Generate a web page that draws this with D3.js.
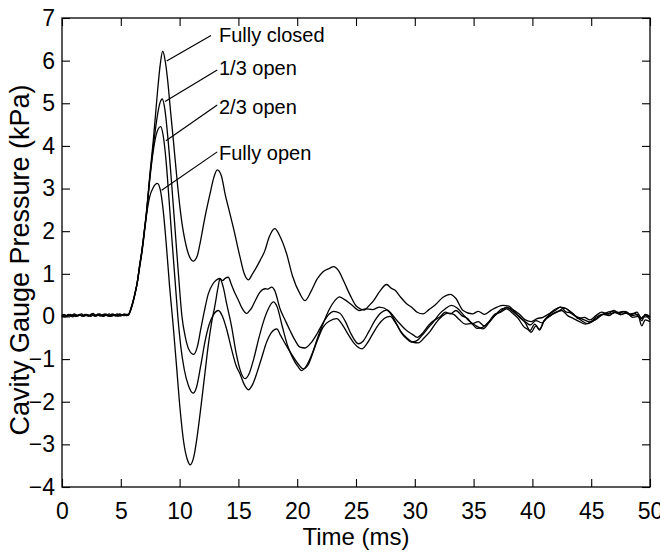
<!doctype html>
<html>
<head>
<meta charset="utf-8">
<title>Cavity gauge pressure</title>
<script src="https://cdnjs.cloudflare.com/ajax/libs/d3/7.8.5/d3.min.js"></script>
<style>
  body { margin: 0; background: #fff; }
  svg { display: block; font-family: "Liberation Sans", Arial, Helvetica, sans-serif; }
</style>
</head>
<body>
<svg id="chart" width="660" height="552"></svg>
<script>
// readings taken off the plot: [time ms, pressure kPa]
var fullyClosed = [
  [0,0.02],[0.25,-0.01],[0.5,0.03],[0.75,0.0],[1,0.04],[1.25,0.01],[1.5,0.05],[1.75,0.02],[2,0.03],[2.25,0.0],
  [2.5,0.06],[2.75,0.02],[3,0.04],[3.25,0.01],[3.5,0.05],[3.75,0.02],[4,0.06],[4.25,0.01],[4.5,0.04],[4.75,0.0],
  [5,0.05],[5.25,0.02],[5.45,0.04],[5.65,0.05],[5.9,0.22],[6.2,0.53],[6.4,0.8],[6.6,1.2],[6.8,1.55],[7.0,2.0],
  [7.2,2.5],[7.48,3.35],[7.77,4.15],[8.13,5.3],[8.35,5.9],[8.56,6.22],[8.8,5.95],[9.0,5.5],[9.2,4.9],[9.47,4.13],
  [9.75,3.3],[10.03,2.56],[10.25,2.1],[10.46,1.78],[10.8,1.43],[11.15,1.3],[11.5,1.42],[11.73,1.7],[12.1,2.25],
  [12.59,2.88],[12.9,3.25],[13.2,3.44],[13.55,3.3],[13.87,2.87],[14.2,2.5],[14.6,2.05],[15.14,1.39],[15.5,1.0],
  [15.85,0.86],[16.2,1.0],[16.84,1.31],[17.26,1.55],[17.6,1.85],[18.1,2.06],[18.5,1.9],[19.1,1.47],[19.6,0.95],
  [20.24,0.53],[20.66,0.37],[21.2,0.6],[21.7,0.88],[22.2,1.05],[22.7,1.12],[23.1,1.17],[23.5,1.08],[24.0,0.8],
  [24.5,0.5],[25.0,0.25],[25.35,0.18],[25.7,0.15],[26.1,0.25],[26.5,0.37],[27.0,0.58],[27.6,0.75],[28.0,0.66],
  [28.3,0.62],[28.8,0.45],[29.3,0.3],[29.8,0.2],[30.2,0.1],[30.7,0.06],[31.2,0.16],[31.7,0.26],[32.4,0.45],
  [33.0,0.52],[33.5,0.42],[34.1,0.14],[34.9,0.06],[35.4,0.12],[35.9,0.05],[36.5,0.15],[37.0,0.22],[37.5,0.26],
  [38.0,0.24],[38.5,0.1],[38.9,-0.02],[39.4,-0.15],[39.8,-0.33],[40.2,-0.18],[40.6,-0.3],[41.0,-0.1],[41.5,0.06],
  [42.0,0.15],[42.35,0.22],[42.9,0.18],[43.4,0.05],[43.9,-0.02],[44.4,-0.08],[44.9,-0.13],[45.4,-0.02],[45.9,0.05],
  [46.6,0.06],[47.2,0.1],[47.6,0.05],[48.0,0.08],[48.5,0.02],[49.0,0.05],[49.3,-0.05],[49.6,0.04],[50,-0.02]
];
var thirdOpen = [
  [0,0.0],[0.2,0.04],[0.45,0.01],[0.7,0.05],[0.95,0.02],[1.2,0.0],[1.45,0.04],[1.7,0.01],[1.95,0.05],[2.2,0.03],
  [2.45,0.0],[2.7,0.04],[2.95,0.02],[3.2,0.06],[3.45,0.01],[3.7,0.04],[3.95,0.0],[4.2,0.05],[4.45,0.03],[4.7,0.06],
  [4.95,0.01],[5.2,0.05],[5.45,0.02],[5.65,0.04],[5.9,0.2],[6.2,0.52],[6.4,0.8],[6.6,1.18],[6.8,1.55],[7.0,2.0],
  [7.2,2.48],[7.48,3.3],[7.77,4.0],[8.05,4.6],[8.3,4.98],[8.53,5.1],[8.75,4.85],[9.0,4.2],[9.3,3.2],[9.6,2.1],
  [9.9,1.0],[10.2,0.0],[10.5,-0.5],[10.8,-0.78],[11.2,-0.89],[11.5,-0.72],[11.8,-0.3],[12.1,0.12],[12.44,0.53],
  [12.8,0.75],[13.1,0.85],[13.43,0.89],[13.65,0.84],[13.9,0.9],[14.14,0.92],[14.4,0.75],[14.7,0.55],[15.0,0.38],
  [15.3,0.2],[15.7,0.07],[15.9,0.12],[16.13,0.2],[16.4,0.35],[16.84,0.57],[17.26,0.65],[17.5,0.64],[17.83,0.69],
  [18.1,0.6],[18.54,0.18],[19.0,-0.1],[19.39,-0.33],[19.8,-0.55],[20.24,-0.72],[20.66,-0.74],[21.23,-0.6],
  [21.7,-0.4],[22.2,-0.15],[22.7,0.05],[23.1,0.12],[23.6,0.08],[24.1,-0.12],[24.6,-0.42],[25.2,-0.64],[25.6,-0.58],
  [26.1,-0.35],[26.6,-0.1],[27.1,0.08],[27.6,0.15],[27.9,0.08],[28.4,-0.15],[28.9,-0.4],[29.3,-0.52],[29.7,-0.6],
  [30.1,-0.58],[30.6,-0.45],[31.1,-0.28],[31.6,-0.12],[32.1,0.06],[32.6,0.18],[33.1,0.26],[33.6,0.2],[34.1,0.05],
  [34.6,-0.1],[35.1,-0.2],[35.8,-0.29],[36.3,-0.15],[36.8,0.02],[37.3,0.12],[37.8,0.22],[38.3,0.12],[38.8,0.02],
  [39.3,-0.1],[39.8,-0.2],[40.3,-0.1],[40.8,-0.15],[41.2,-0.05],[41.7,0.05],[42.2,0.12],[42.7,0.2],[43.2,0.12],
  [43.7,0.0],[44.2,-0.1],[44.7,-0.17],[45.2,-0.1],[45.7,0.0],[46.2,0.08],[46.7,0.12],[47.2,0.08],[47.7,0.12],
  [48.2,0.05],[48.7,0.08],[49.2,-0.05],[49.6,0.02],[50,-0.08]
];
var twoThirdsOpen = [
  [0,0.04],[0.3,0.0],[0.55,0.05],[0.8,0.02],[1.05,0.06],[1.3,0.01],[1.55,0.03],[1.8,0.0],[2.05,0.05],[2.3,0.02],
  [2.55,0.04],[2.8,0.0],[3.05,0.06],[3.3,0.03],[3.55,0.0],[3.8,0.05],[4.05,0.02],[4.3,0.06],[4.55,0.01],[4.8,0.04],
  [5.05,0.02],[5.3,0.06],[5.5,0.02],[5.65,0.03],[5.9,0.2],[6.2,0.52],[6.4,0.78],[6.6,1.18],[6.8,1.55],[7.0,2.0],
  [7.2,2.45],[7.48,3.25],[7.77,3.9],[8.05,4.3],[8.39,4.45],[8.6,4.25],[8.85,3.65],[9.1,2.75],[9.35,1.8],[9.6,0.9],
  [9.85,0.0],[10.1,-0.7],[10.4,-1.25],[10.75,-1.62],[11.15,-1.8],[11.45,-1.65],[11.8,-1.15],[12.15,-0.6],
  [12.5,-0.2],[12.9,0.05],[13.3,0.14],[13.65,0.0],[14.0,-0.3],[14.4,-0.75],[14.8,-1.15],[15.14,-1.35],[15.5,-1.6],
  [15.85,-1.72],[16.2,-1.6],[16.6,-1.3],[17.0,-0.95],[17.4,-0.6],[17.8,-0.38],[18.26,-0.29],[18.6,-0.45],
  [19.0,-0.65],[19.67,-0.95],[20.1,-1.12],[20.52,-1.23],[20.9,-1.15],[21.4,-0.8],[21.8,-0.5],[22.2,-0.25],
  [22.8,-0.1],[23.36,-0.05],[23.9,-0.22],[24.4,-0.45],[24.9,-0.65],[25.5,-0.76],[25.9,-0.65],[26.4,-0.42],
  [26.9,-0.2],[27.4,-0.05],[27.9,0.0],[28.3,-0.12],[28.8,-0.35],[29.3,-0.5],[29.8,-0.6],[30.3,-0.62],[30.8,-0.5],
  [31.3,-0.35],[31.8,-0.15],[32.3,0.0],[32.8,0.08],[33.3,0.05],[33.8,-0.08],[34.3,-0.18],[34.8,-0.17],[35.3,-0.28],
  [35.8,-0.25],[36.3,-0.12],[36.8,0.05],[37.3,0.1],[37.8,0.18],[38.3,0.08],[38.8,-0.05],[39.3,-0.25],[39.6,-0.3],
  [39.9,-0.37],[40.3,-0.22],[40.6,-0.32],[41.0,-0.1],[41.5,0.02],[42.0,0.1],[42.5,0.14],[43.0,0.02],[43.5,-0.05],
  [44.0,-0.12],[44.5,-0.18],[45.0,-0.12],[45.5,-0.05],[46.0,0.05],[46.5,0.02],[47.0,0.1],[47.5,0.04],[48.0,0.1],
  [48.5,-0.02],[49.0,0.0],[49.3,-0.22],[49.6,-0.08],[50,-0.12]
];
var fullyOpen = [
  [0,0.01],[0.15,0.05],[0.4,0.0],[0.65,0.03],[0.9,-0.01],[1.15,0.04],[1.4,0.02],[1.65,0.06],[1.9,0.01],[2.15,0.04],
  [2.4,0.02],[2.65,0.07],[2.9,0.01],[3.15,0.04],[3.4,0.02],[3.65,0.06],[3.9,0.03],[4.15,0.0],[4.4,0.05],[4.65,0.02],
  [4.9,0.06],[5.15,0.03],[5.4,0.05],[5.65,0.05],[5.9,0.22],[6.2,0.54],[6.4,0.8],[6.6,1.15],[6.8,1.5],[7.0,1.95],
  [7.2,2.4],[7.45,2.8],[7.75,3.02],[8.1,3.12],[8.35,2.98],[8.6,2.5],[8.85,1.75],[9.15,0.7],[9.45,-0.2],[9.75,-1.2],
  [10.05,-2.2],[10.35,-2.95],[10.65,-3.35],[10.9,-3.48],[11.2,-3.3],[11.5,-2.8],[11.8,-2.15],[12.15,-1.34],
  [12.45,-0.65],[12.75,-0.1],[13.0,0.25],[13.25,0.65],[13.43,0.88],[13.7,0.7],[14.0,0.3],[14.43,-0.25],[14.8,-0.85],
  [15.2,-1.3],[15.56,-1.46],[15.9,-1.35],[16.3,-1.0],[16.7,-0.55],[17.1,-0.15],[17.5,0.15],[17.97,0.34],[18.3,0.22],
  [18.7,-0.2],[19.2,-0.7],[19.67,-1.0],[20.1,-1.19],[20.38,-1.27],[20.8,-1.15],[21.3,-0.85],[21.8,-0.45],
  [22.2,-0.17],[22.7,0.15],[23.2,0.37],[23.6,0.46],[24.0,0.4],[24.6,0.28],[25.3,0.14],[25.8,0.18],[26.4,0.16],
  [27.0,0.22],[27.75,0.14],[28.5,-0.1],[29.3,-0.33],[29.8,-0.42],[30.2,-0.49],[30.7,-0.38],[31.2,-0.2],[31.7,-0.08],
  [32.1,-0.02],[32.6,0.1],[33.0,0.06],[33.5,0.14],[34.0,0.02],[34.5,-0.05],[34.9,-0.17],[35.4,-0.12],[35.9,-0.22],
  [36.4,-0.1],[36.9,0.05],[37.4,0.18],[37.9,0.2],[38.4,0.15],[38.9,0.05],[39.4,-0.08],[39.9,-0.12],[40.4,-0.05],
  [40.9,-0.02],[41.4,0.06],[41.9,0.16],[42.4,0.22],[42.9,0.1],[43.4,0.08],[43.9,-0.05],[44.4,-0.02],[44.9,-0.08],
  [45.4,0.02],[45.9,0.1],[46.4,0.06],[46.9,0.14],[47.4,0.08],[47.9,0.12],[48.4,0.04],[48.9,0.1],[49.3,-0.1],
  [49.6,0.05],[50,0.0]
];

var xTicks = [0,5,10,15,20,25,30,35,40,45,50];
var yTicks = [-4,-3,-2,-1,0,1,2,3,4,5,6,7];

// annotation text, where it sits and where its leader line ends (data units)
var labels = ["Fully closed", "1/3 open", "2/3 open", "Fully open"];
var labelAt = [[13.35,6.43],[13.35,5.66],[13.35,4.76],[13.35,3.67]];
var lineFrom = [[12.67,6.59],[13.2,5.78],[13.2,4.96],[13.2,3.86]];
var lineTo = [[8.9,5.99],[8.76,5.04],[8.84,4.12],[8.47,2.96]];

var svg = d3.select("#chart");
var plotL = 62, plotR = 650, plotT = 18, plotB = 487;

var x = d3.scaleLinear().domain([0,50]).range([plotL,plotR]);
var y = d3.scaleLinear().domain([-4,7]).range([plotB,plotT]);

// axes, ticks pointing into the box
var xAxis = d3.axisBottom(x).tickValues(xTicks).tickSizeInner(-8).tickSizeOuter(0).tickPadding(16);
var yAxis = d3.axisLeft(y).tickValues(yTicks).tickSizeInner(-8).tickSizeOuter(0).tickPadding(7);

svg.append("g").attr("transform", "translate(0," + plotB + ")").call(xAxis);
svg.append("g").attr("transform", "translate(" + plotL + ",0)").call(yAxis);
svg.append("g").attr("transform", "translate(0," + plotT + ")")
  .call(d3.axisTop(x).tickValues(xTicks).tickSizeInner(-8).tickSizeOuter(0).tickFormat(""));
svg.append("g").attr("transform", "translate(" + plotR + ",0)")
  .call(d3.axisRight(y).tickValues(yTicks).tickSizeInner(-8).tickSizeOuter(0).tickFormat(""));

svg.selectAll(".domain").remove();
svg.selectAll(".tick line").attr("stroke", "#000").attr("stroke-width", 1.1);
svg.selectAll(".tick text").attr("font-size", 23).attr("fill", "#000")
  .attr("font-family", "'Liberation Sans', Arial, sans-serif");

svg.append("rect")
  .attr("x", plotL).attr("y", plotT)
  .attr("width", plotR - plotL).attr("height", plotB - plotT)
  .attr("fill", "none").attr("stroke", "#000").attr("stroke-width", 1.3);

var line = d3.line()
  .x(d => x(d[0]))
  .y(d => y(d[1]))
  .curve(d3.curveMonotoneX);

svg.append("g").selectAll("path")
  .data([fullyClosed, thirdOpen, twoThirdsOpen, fullyOpen])
  .enter()
  .append("path")
  .attr("d", line)
  .attr("fill", "none")
  .attr("stroke", "#000")
  .attr("stroke-width", 1.3)
  .attr("stroke-linejoin", "round");

// labels with leader lines
svg.append("g").selectAll("line")
  .data(labels)
  .enter()
  .append("line")
  .attr("x1", (d, i) => x(lineFrom[i][0]))
  .attr("y1", (d, i) => y(lineFrom[i][1]))
  .attr("x2", (d, i) => x(lineTo[i][0]))
  .attr("y2", (d, i) => y(lineTo[i][1]))
  .attr("stroke", "#000")
  .attr("stroke-width", 1.2);

svg.append("g").selectAll("text")
  .data(labels)
  .enter()
  .append("text")
  .attr("x", (d, i) => x(labelAt[i][0]))
  .attr("y", (d, i) => y(labelAt[i][1]))
  .attr("font-size", 20)
  .text(d => d);

// axis titles
svg.append("text")
  .attr("x", (plotL + plotR) / 2)
  .attr("y", 545)
  .attr("text-anchor", "middle")
  .attr("font-size", 24)
  .text("Time (ms)");

svg.append("text")
  .attr("transform", "rotate(-90)")
  .attr("x", -260)
  .attr("y", 29)
  .attr("text-anchor", "middle")
  .attr("font-size", 27)
  .text("Cavity Gauge Pressure (kPa)");
</script>
</body>
</html>
